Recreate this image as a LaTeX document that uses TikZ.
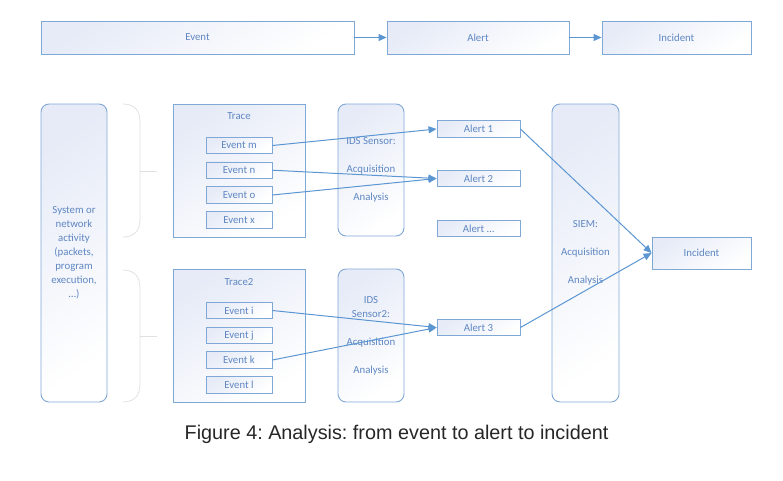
\documentclass[tikz,border=0pt]{standalone}
\usepackage{fontspec}
\setmainfont{Carlito}
\newfontfamily\capfont{Liberation Sans}
\usetikzlibrary{arrows.meta}
\frenchspacing
\definecolor{bord}{RGB}{128,168,215}
\definecolor{boxtop}{RGB}{230,235,247}
\definecolor{txt}{RGB}{95,135,195}
\definecolor{arr}{RGB}{91,150,210}
\definecolor{brace}{RGB}{225,225,225}
\tikzset{
  base/.style={draw=bord, line width=0.9pt, top color=boxtop, bottom color=white, shading angle=35,
    text=txt, font=\fontsize{10.8}{14}\selectfont, align=center, inner sep=0pt},
  rbox/.style={base, rounded corners=8pt},
  evbox/.style={base, minimum width=66pt, minimum height=16.5pt},
  albox/.style={base, minimum width=83pt, minimum height=16.5pt},
  lbl/.style={text=txt, font=\fontsize{10.8}{14}\selectfont, align=center, inner sep=0pt},
  link/.style={draw=arr, line width=1pt, -{Triangle[length=8pt,width=7pt]}},
  bracestyle/.style={draw=brace, line width=0.8pt}
}
\begin{document}
\frenchspacing
\begin{tikzpicture}[x=1pt,y=-1pt]
\useasboundingbox (0,0) rectangle (783,480);
% top row
\node[base, minimum width=313pt, minimum height=33pt] (tev) at (197.5,37.5) {Event};
\node[base, minimum width=182pt, minimum height=33pt] (tal) at (478,37.5) {Alert};
\node[base, minimum width=149pt, minimum height=33pt] (tinc) at (676.5,37.5) {Incident};
\draw[link] (tev) -- (tal);
\draw[link] (tal) -- (tinc);
% system activity
\node[rbox, minimum width=66pt, minimum height=298pt] (sys) at (74,253) {System or\\network\\activity\\(packets,\\program\\execution,\\\dots)};
% braces
\coordinate (b1t) at (123,104);
\coordinate (b1b) at (123,237);
\coordinate (b1m) at (140,171);
\coordinate (b1e) at (157,171);
\draw[bracestyle] (b1t) .. controls (134,104) and (140,110) .. (140,122) -- (140,219) .. controls (140,231) and (134,237) .. (b1b);
\draw[bracestyle] (b1m) -- (b1e);
\coordinate (b2t) at (123,270);
\coordinate (b2b) at (123,402);
\coordinate (b2m) at (140,336);
\coordinate (b2e) at (157,336);
\draw[bracestyle] (b2t) .. controls (134,270) and (140,276) .. (140,288) -- (140,384) .. controls (140,396) and (134,402) .. (b2b);
\draw[bracestyle] (b2m) -- (b2e);
% traces
\node[base, minimum width=132pt, minimum height=133pt] (tr1) at (239,170.5) {};
\node[lbl] (tr1t) at (239,116) {Trace};
\node[evbox] (em) at (239,145.5) {Event m};
\node[evbox] (en) at (239,170.2) {Event n};
\node[evbox] (eo) at (239,195) {Event o};
\node[evbox] (ex) at (239,220) {Event x};
\node[base, minimum width=132pt, minimum height=133pt] (tr2) at (239,335.5) {};
\node[lbl] (tr2t) at (239,282) {Trace2};
\node[evbox] (ei) at (239,310.5) {Event i};
\node[evbox] (ej) at (239,335.5) {Event j};
\node[evbox] (ek) at (239,360) {Event k};
\node[evbox] (el) at (239,385) {Event l};
% IDS sensors
\node[rbox, minimum width=66pt, minimum height=132pt] (ids1) at (371,170) {IDS Sensor:\\[14pt]Acquisition\\[14pt]Analysis};
\node[rbox, minimum width=66pt, minimum height=133pt] (ids2) at (371,335.5) {IDS\\Sensor2:\\[14pt]Acquisition\\[14pt]Analysis};
% alerts
\node[albox] (a1) at (478.5,129) {Alert 1};
\node[albox] (a2) at (478.5,178.5) {Alert 2};
\node[albox] (ad) at (478.5,228.5) {Alert \dots};
\node[albox] (a3) at (478.5,327.5) {Alert 3};
% SIEM
\node[rbox, minimum width=67pt, minimum height=298pt] (siem) at (585.5,253) {SIEM:\\[14pt]Acquisition\\[14pt]Analysis};
\node[base, minimum width=99pt, minimum height=32pt] (inc) at (701.5,253) {Incident};
% links
\draw[link] (em.east) -- (a1.west);
\draw[link] (en.east) -- (a2.west);
\draw[link] (eo.east) -- (a2.west);
\draw[link] (ei.east) -- (a3.west);
\draw[link] (ek.east) -- (a3.west);
\draw[link] (a1.east) -- (inc.west);
\draw[link] (a3.east) -- (inc.west);
% caption
\node[font=\capfont\fontsize{19.8}{22}\selectfont, text=black!85, inner sep=0pt] (cap) at (396.5,434) {Figure 4: Analysis: from event to alert to incident};
\end{tikzpicture}
\end{document}
